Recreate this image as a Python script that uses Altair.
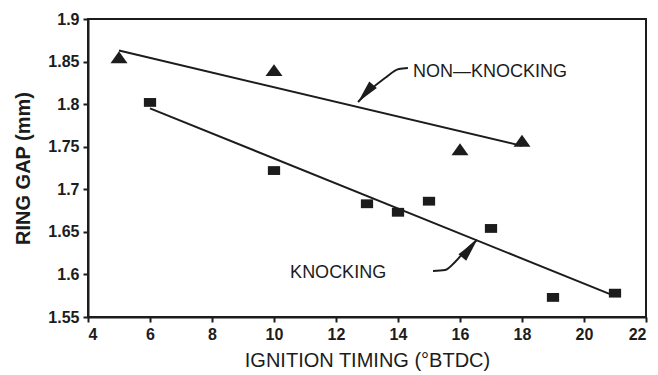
import altair as alt
import pandas as pd

# Measured data
nk_x = [5, 10, 16, 18]
nk_y = [1.854, 1.839, 1.746, 1.756]
k_x = [6, 10, 13, 14, 15, 17, 19, 21]
k_y = [1.802, 1.722, 1.683, 1.673, 1.686, 1.654, 1.573, 1.578]

# Fitted lines (endpoints)
nk_line_x = [5, 18]
nk_line_y = [1.863, 1.751]
k_line_x = [6, 21]
k_line_y = [1.795, 1.5745]

# Annotation arrows (shaft points) and tips
nk_arrow_x = [14.32, 14.03, 13.58, 13.03]
nk_arrow_y = [1.8424, 1.8413, 1.8307, 1.8143]
nk_tip = (12.71, 1.8025, 221)
k_arrow_x = [15.13, 15.52, 15.84, 16.19]
k_arrow_y = [1.604, 1.6052, 1.6146, 1.6287]
k_tip = (16.55, 1.6404, 40)

labels = ["NON\u2014KNOCKING", "KNOCKING"]
label_x = [14.48, 10.52]
label_y = [1.838, 1.6015]

INK = "#1c1c1c"
FONT = "Liberation Sans"

xs = alt.Scale(domain=[4, 22], nice=False, zero=False)
ys = alt.Scale(domain=[1.55, 1.9], nice=False, zero=False)

xax = alt.Axis(values=list(range(4, 23, 2)), title="IGNITION TIMING (\u00b0BTDC)",
               grid=False, tickSize=5, labelFontSize=16, labelFontWeight="bold",
               labelFont=FONT, titleFont=FONT, titleFontSize=20, titleFontWeight="normal",
               titlePadding=8, labelPadding=4, domainColor=INK, tickColor=INK,
               labelColor=INK, titleColor=INK, domainWidth=2, tickWidth=2)
yax = alt.Axis(values=[1.55, 1.6, 1.65, 1.7, 1.75, 1.8, 1.85, 1.9], title="RING GAP (mm)",
               grid=False, tickSize=5, labelFontSize=16, labelFontWeight="bold",
               labelFont=FONT, titleFont=FONT, titleFontSize=20, titleFontWeight="bold",
               titlePadding=14, labelPadding=4, domainColor=INK, tickColor=INK,
               labelColor=INK, titleColor=INK, domainWidth=2, tickWidth=2,
               labelExpr="datum.value == 1.6 ? '1.6' : datum.value == 1.7 ? '1.7' : datum.value == 1.8 ? '1.8' : datum.value == 1.9 ? '1.9' : format(datum.value, '.2f')")

df_nk = pd.DataFrame({"x": nk_x, "y": nk_y})
df_k = pd.DataFrame({"x": k_x, "y": k_y})
df_nkl = pd.DataFrame({"x": nk_line_x, "y": nk_line_y})
df_kl = pd.DataFrame({"x": k_line_x, "y": k_line_y})
df_nka = pd.DataFrame({"x": nk_arrow_x + [nk_tip[0]], "y": nk_arrow_y + [nk_tip[1]], "o": list(range(5))})
df_ka = pd.DataFrame({"x": k_arrow_x + [k_tip[0]], "y": k_arrow_y + [k_tip[1]], "o": list(range(5))})
df_tips = pd.DataFrame({"x": [nk_tip[0], k_tip[0]], "y": [nk_tip[1], k_tip[1]], "a": [nk_tip[2], k_tip[2]]})
df_lab = pd.DataFrame({"x": label_x, "y": label_y, "t": labels})

tri_path = "M-1,0.6 L1,0.6 L0,-0.8 Z"
rect_path = "M-1,-0.72 L1,-0.72 L1,0.72 L-1,0.72 Z"
head_path = "M0,0 L0.22,1 L-0.22,1 Z"

base_enc = dict(x=alt.X("x:Q", scale=xs, axis=xax), y=alt.Y("y:Q", scale=ys, axis=yax))

tri = alt.Chart(df_nk).mark_point(shape=tri_path, size=290, filled=True, color=INK, opacity=1).encode(**base_enc)
sq = alt.Chart(df_k).mark_point(shape=rect_path, size=150, filled=True, color=INK, opacity=1).encode(**base_enc)
nkl = alt.Chart(df_nkl).mark_line(color=INK, strokeWidth=2).encode(**base_enc)
kl = alt.Chart(df_kl).mark_line(color=INK, strokeWidth=2).encode(**base_enc)
nka = alt.Chart(df_nka).mark_line(color=INK, strokeWidth=2, interpolate="monotone").encode(
    x=alt.X("x:Q", scale=xs), y=alt.Y("y:Q", scale=ys), order="o:O")
ka = alt.Chart(df_ka).mark_line(color=INK, strokeWidth=2, interpolate="monotone").encode(
    x=alt.X("x:Q", scale=xs), y=alt.Y("y:Q", scale=ys), order="o:O")
heads = alt.Chart(df_tips).mark_point(shape=head_path, size=2100, filled=True, color=INK, opacity=1).encode(
    x=alt.X("x:Q", scale=xs), y=alt.Y("y:Q", scale=ys), angle=alt.Angle("a:Q", scale=None))
txt = alt.Chart(df_lab).mark_text(align="left", baseline="middle", font=FONT, fontSize=18, color=INK).encode(
    x=alt.X("x:Q", scale=xs), y=alt.Y("y:Q", scale=ys), text="t:N")

chart = alt.layer(nkl, kl, tri, sq, nka, ka, heads, txt).properties(
    width=558, height=298,
    autosize=alt.AutoSizeParams(type="none"),
    padding={"left": 80, "top": 11, "right": 4, "bottom": 56},
    background="white",
).configure_view(stroke=INK, strokeWidth=2)

chart.save("out.html", embed_options={"renderer": "svg", "actions": False})
